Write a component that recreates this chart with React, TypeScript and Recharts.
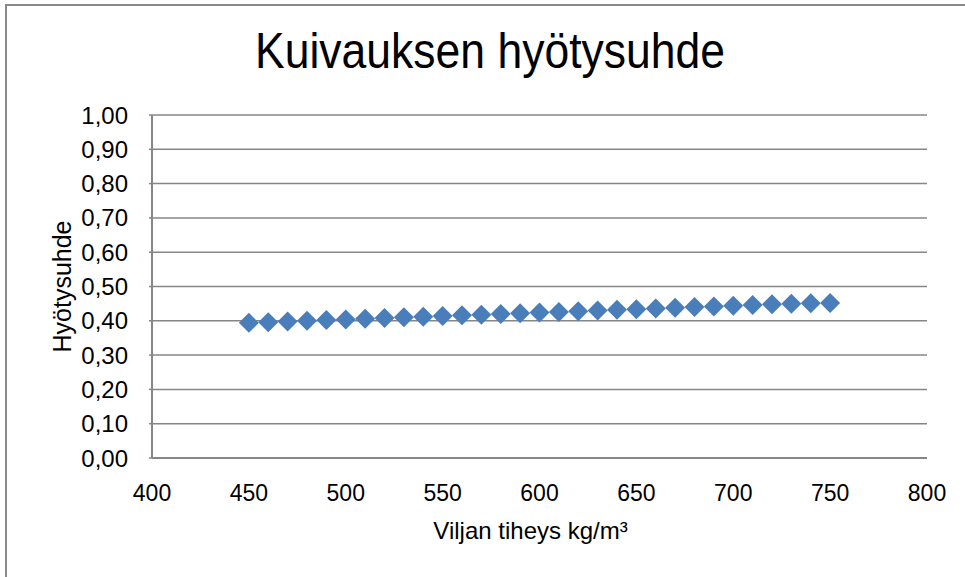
import { ScatterChart, Scatter, XAxis, YAxis, CartesianGrid } from "recharts";

const densities = [
  450, 460, 470, 480, 490, 500, 510, 520, 530, 540, 550, 560, 570, 580, 590,
  600, 610, 620, 630, 640, 650, 660, 670, 680, 690, 700, 710, 720, 730, 740, 750,
];
const efficiency = [
  0.394, 0.396, 0.398, 0.4, 0.402, 0.404, 0.406, 0.408, 0.41, 0.412, 0.414,
  0.416, 0.418, 0.42, 0.422, 0.424, 0.426, 0.428, 0.43, 0.432, 0.434, 0.436,
  0.438, 0.44, 0.442, 0.444, 0.446, 0.448, 0.45, 0.451, 0.452,
];
const xTicks = [400, 450, 500, 550, 600, 650, 700, 750, 800];
const yTicks = [0, 0.1, 0.2, 0.3, 0.4, 0.5, 0.6, 0.7, 0.8, 0.9, 1.0];

const data = densities.map((x, i) => ({ x, y: efficiency[i] }));

const FONT = "'Liberation Sans Narrow', 'Arial Narrow', 'Liberation Sans', sans-serif";
const AXIS = "#868686";

const Diamond = (props: { cx?: number; cy?: number }) => {
  const { cx = 0, cy = 0 } = props;
  const r = 10;
  return (
    <path
      d={`M${cx},${cy - r}L${cx + r},${cy}L${cx},${cy + r}L${cx - r},${cy}Z`}
      fill="#4a7ebb"
    />
  );
};

export default function App() {
  return (
    <div
      style={{
        position: "absolute",
        left: 0,
        top: 0,
        width: 965,
        height: 577,
        background: "#fff",
        fontFamily: FONT,
        overflow: "hidden",
      }}
    >
      <div
        style={{
          position: "absolute",
          left: 5,
          top: 4,
          width: 960,
          height: 573,
          borderTop: "2px solid #8a8a8a",
          borderLeft: "2px solid #8a8a8a",
        }}
      />
      <div
        style={{
          position: "absolute",
          left: 0,
          top: 22,
          width: 980,
          textAlign: "center",
          fontSize: 50,
          color: "#000",
          transform: "scaleX(0.89)",
        }}
      >
        Kuivauksen hyötysuhde
      </div>
      <ScatterChart
        width={965}
        height={577}
        margin={{ top: 115, right: 38, bottom: 0, left: 0 }}
        style={{ position: "absolute", left: 0, top: 0 }}
      >
        <CartesianGrid vertical={false} stroke={AXIS} strokeWidth={1.5} />
        <XAxis
          type="number"
          dataKey="x"
          domain={[400, 800]}
          ticks={xTicks}
          height={119}
          axisLine={{ stroke: AXIS, strokeWidth: 2 }}
          tickLine={false}
          tickSize={6}
          tickMargin={21}
          tick={{ fill: "#000", fontSize: 23, fontFamily: FONT }}
          label={{
            value: "Viljan tiheys kg/m³",
            position: "insideTop",
            offset: 64,
            dx: -9,
            fill: "#000",
            fontSize: 24,
            fontFamily: FONT,
          }}
        />
        <YAxis
          type="number"
          dataKey="y"
          domain={[0, 1]}
          ticks={yTicks}
          width={152}
          axisLine={{ stroke: AXIS, strokeWidth: 2 }}
          tickLine={{ stroke: AXIS, strokeWidth: 1.5 }}
          tickSize={3}
          tickMargin={21}
          tickFormatter={(v: number) => v.toFixed(2).replace(".", ",")}
          tick={{ fill: "#000", fontSize: 24, fontFamily: FONT }}
          label={{
            value: "Hyötysuhde",
            angle: -90,
            position: "insideLeft",
            offset: 62,
            fill: "#000",
            fontSize: 25,
            fontFamily: FONT,
            style: { textAnchor: "middle" },
          }}
        />
        <Scatter data={data} shape={<Diamond />} isAnimationActive={false} />
      </ScatterChart>
    </div>
  );
}
